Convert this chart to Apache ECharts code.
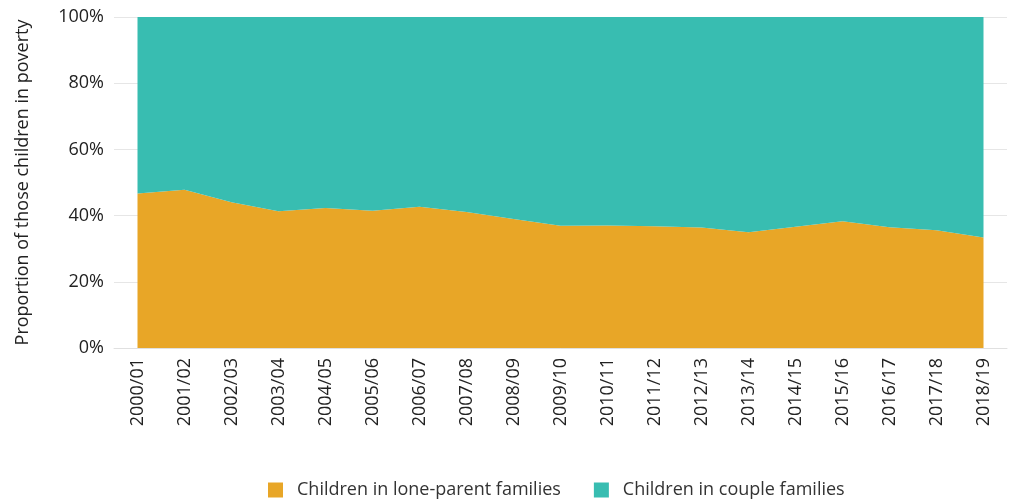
<!doctype html>
<html lang="en">
<head>
    <meta charset="UTF-8">
    <title>Children in poverty by family type</title>
    <script src="https://cdn.jsdelivr.net/npm/echarts@6/dist/echarts.min.js"></script>
    <style>
        body { margin: 0; background: #fff; }
    </style>
</head>
<body>
    <div id="main" style="width: 1011px;height:501px;"></div>
    <script>
        var years = ['2000/01', '2001/02', '2002/03', '2003/04', '2004/05', '2005/06', '2006/07',
            '2007/08', '2008/09', '2009/10', '2010/11', '2011/12', '2012/13', '2013/14',
            '2014/15', '2015/16', '2016/17', '2017/18', '2018/19'];
        var loneParent = [46.7, 47.8, 44.0, 41.3, 42.3, 41.5, 42.7, 41.1, 39.0, 36.9,
            37.0, 36.8, 36.4, 35.0, 36.6, 38.3, 36.5, 35.6, 33.4];
        var couple = [53.3, 52.2, 56.0, 58.7, 57.7, 58.5, 57.3, 58.9, 61.0, 63.1,
            63.0, 63.2, 63.6, 65.0, 63.4, 61.7, 63.5, 64.4, 66.6];
        var yTicks = [0, 20, 40, 60, 80, 100];

        var font = 'Open Sans';
        var myChart = echarts.init(document.getElementById('main'));
        myChart.setOption({
            backgroundColor: '#fff',
            animation: false,
            textStyle: { fontFamily: font },
            grid: { left: 114, right: 4, top: 17, bottom: 153 },
            legend: {
                top: 481,
                left: 268,
                padding: 0,
                itemWidth: 15,
                itemHeight: 15,
                itemGap: 33,
                icon: 'rect',
                textStyle: { fontSize: 18, color: '#333', fontFamily: font, padding: [0, 0, 0, 9] },
                data: ['Children in lone-parent families', 'Children in couple families']
            },
            xAxis: {
                type: 'category',
                data: years,
                boundaryGap: true,
                axisLine: { show: true, lineStyle: { color: '#e0e0e0' } },
                axisTick: { show: false },
                axisLabel: { rotate: 90, fontSize: 18, color: '#222', margin: 10, interval: 0 }
            },
            yAxis: {
                type: 'value',
                min: yTicks[0],
                max: yTicks[yTicks.length - 1],
                interval: 20,
                name: 'Proportion of those children in poverty',
                nameLocation: 'middle',
                nameGap: 82,
                nameRotate: 90,
                nameTextStyle: { fontSize: 18, color: '#222' },
                axisLine: { show: false },
                axisTick: { show: false },
                axisLabel: { fontSize: 18, color: '#222', margin: 10, formatter: '{value}%' },
                splitLine: { lineStyle: { color: '#e6e6e6' } }
            },
            series: [{
                name: 'Children in lone-parent families',
                type: 'line',
                stack: 'total',
                symbol: 'none',
                lineStyle: { width: 0 },
                itemStyle: { color: '#e8a627' },
                areaStyle: { color: '#e8a627', opacity: 1 },
                data: loneParent
            }, {
                name: 'Children in couple families',
                type: 'line',
                stack: 'total',
                symbol: 'none',
                lineStyle: { width: 0 },
                itemStyle: { color: '#38bdb1' },
                areaStyle: { color: '#38bdb1', opacity: 1 },
                data: couple
            }]
        });
    </script>
</body>
</html>
